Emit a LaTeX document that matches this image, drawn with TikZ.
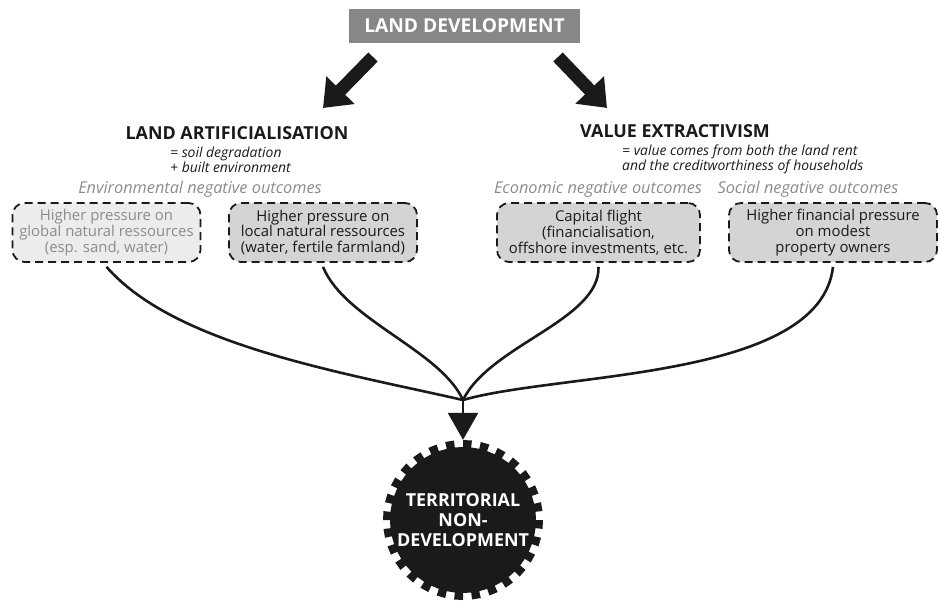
\documentclass[tikz,border=0pt]{standalone}
\usepackage{fontspec}
\setmainfont{Open Sans}
\usetikzlibrary{arrows.meta}
\definecolor{inkblack}{HTML}{1A1A1A}
\definecolor{headgray}{HTML}{878787}
\definecolor{lightfill}{HTML}{ECECEC}
\definecolor{midfill}{HTML}{D4D4D4}
\definecolor{softtext}{HTML}{8C8C8C}

\begin{document}
\begin{tikzpicture}[x=1pt,y=-1pt,
	heading/.style={font=\fontsize{17.9}{20}\selectfont\bfseries, text=inkblack},
	gloss/.style={anchor=west, inner sep=0pt, align=left, font=\fontsize{13.9}{15.2}\selectfont\itshape, text=inkblack},
	outcome/.style={font=\fontsize{16.3}{18}\selectfont\itshape, text=softtext},
	effect/.style={draw=inkblack, line width=1.8pt, dash pattern=on 8pt off 5pt,
		rounded corners=12pt, fill=midfill, align=center, text=inkblack,
		font=\fontsize{14.9}{15.8}\selectfont, minimum height=59pt, inner sep=2pt},
	link/.style={draw=inkblack, line width=2.6pt},
	bigarrow/.style={draw=inkblack, line width=13pt, -{Triangle[width=38pt,length=25pt]}}]
	\useasboundingbox (0,0) rectangle (939,601);

	\node [fill=headgray, minimum width=231pt, minimum height=34pt, text=white,
		font=\fontsize{19.2}{20}\selectfont\bfseries] (ld) at (464.5,26) {LAND DEVELOPMENT};

	\coordinate (ltail) at (373,57);
	\coordinate (ltip) at (323,108);
	\coordinate (rtail) at (558,57);
	\coordinate (rtip) at (607,108);
	\draw [bigarrow] (ltail) -- (ltip);
	\draw [bigarrow] (rtail) -- (rtip);

	\node [heading] (la) at (237,133) {LAND ARTIFICIALISATION};
	\node [gloss] (lagloss) at (170,159.5) {= soil degradation\\+ built environment};
	\node [heading] (ve) at (675,131) {VALUE EXTRACTIVISM};
	\node [gloss] (vegloss) at (622,159.5) {= value comes from both the land rent\\and the creditworthiness of households};

	\node [outcome] (envout) at (200,189) {Environmental negative outcomes};
	\node [outcome] (ecoout) at (598,189) {Economic negative outcomes};
	\node [outcome] (socout) at (808,189) {Social negative outcomes};

	\node [effect, fill=lightfill, text=softtext, minimum width=188pt] (b1) at (106.5,232.5)
		{Higher pressure on\\global natural ressources\\(esp. sand, water)};
	\node [effect, minimum width=188pt] (b2) at (323,232.5)
		{Higher pressure on\\local natural ressources\\(water, fertile farmland)};
	\node [effect, minimum width=203pt] (b3) at (598.5,232.5)
		{Capital flight\\(financialisation,\\offshore investments, etc.};
	\node [effect, minimum width=208pt] (b4) at (833,232.5)
		{Higher financial pressure\\on modest\\property owners};

	% gear
	\begin{scope}[shift={(463,520)}]
		\fill [inkblack] (-90:80) \foreach \k in {0,...,27} {
			-- ({-90+\k*12.857}:80) -- ({-90+\k*12.857+6.4}:80)
			-- ({-90+\k*12.857+6.4}:73) -- ({-90+(\k+1)*12.857}:73)} -- cycle;
	\end{scope}
	\node [circle, minimum size=160pt, inner sep=0pt, align=center, text=white,
		font=\fontsize{17.9}{20}\selectfont\bfseries] (tnd) at (463,520)
		{TERRITORIAL\\NON-\\DEVELOPMENT};

	\coordinate (join) at (463,400);
	\draw [link] ([yshift=-4pt]b1.south) .. controls (175,345) and (340,372) .. (join);
	\draw [link] ([yshift=-4pt]b2.south) .. controls (345,320) and (440,350) .. (join);
	\draw [link] ([yshift=-4pt]b3.south) .. controls (600,320) and (490,345) .. (join);
	\draw [link] ([yshift=-4pt]b4.south) .. controls (820,380) and (560,372) .. (join);
	\draw [link, -{Triangle[width=30pt,length=27pt]}] (join) -- (tnd.north);
\end{tikzpicture}
\end{document}
